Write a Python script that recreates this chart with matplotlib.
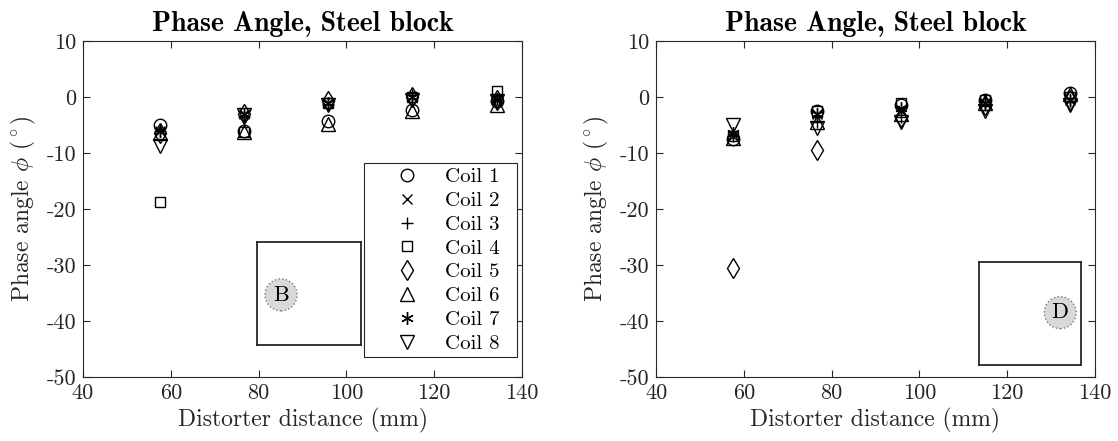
import matplotlib
matplotlib.use("Agg")
import matplotlib.pyplot as plt
from matplotlib.patches import Circle, Rectangle

plt.rcParams['font.family'] = ['cmr10', 'DejaVu Serif']
plt.rcParams['mathtext.fontset'] = 'cm'
plt.rcParams['axes.unicode_minus'] = False
plt.rcParams['axes.formatter.use_mathtext'] = False

distance = [57.5, 76.7, 95.8, 115.0, 134.3]
coils = ["Coil 1", "Coil 2", "Coil 3", "Coil 4", "Coil 5", "Coil 6", "Coil 7", "Coil 8"]

# Left panel (block position B)
left_vals = [
    [-5.0, -6.0, -4.3, -2.3, -0.8],    # Coil 1
    [-6.0, -3.0, -1.0, 0.0, -0.3],     # Coil 2
    [-6.0, -3.5, -1.2, 0.3, -0.3],     # Coil 3
    [-18.8, -6.2, -1.0, 0.0, 1.0],     # Coil 4
    [-6.5, -3.0, -0.8, 0.0, -0.5],     # Coil 5
    [-6.5, -6.3, -4.8, -2.5, -1.5],    # Coil 6
    [-6.0, -3.0, -1.0, 0.0, -0.3],     # Coil 7
    [-8.7, -3.2, -1.5, -0.5, -0.8],    # Coil 8
]
# Right panel (block position D)
right_vals = [
    [-7.5, -2.5, -1.5, -0.5, 0.8],     # Coil 1
    [-7.0, -3.0, -2.5, -1.0, -0.5],    # Coil 2
    [-7.0, -4.5, -3.5, -1.5, -0.8],    # Coil 3
    [-7.0, -2.5, -1.0, -0.5, 0.0],     # Coil 4
    [-30.5, -9.5, -3.5, -1.5, -0.5],   # Coil 5
    [-7.3, -4.5, -3.0, -1.0, 0.5],     # Coil 6
    [-6.5, -3.0, -2.0, -1.0, -0.5],    # Coil 7
    [-5.0, -5.5, -4.5, -2.5, -1.5],    # Coil 8
]
inset_labels = ["B", "D"]

markers = ['o', 'x', '+', 's', 'd', '^', (6, 2, 0), 'v']
msizes = [9, 7, 9, 7, 10, 10, 9, 10]

fig = plt.figure(figsize=(11.18, 4.41), dpi=100)
W, H = 1118, 441
axL = fig.add_axes([83 / W, 1 - 377 / H, 439 / W, 336 / H])
axR = fig.add_axes([656 / W, 1 - 377 / H, 439 / W, 336 / H])

spine_col = '#262626'

for ax, vals in [(axL, left_vals), (axR, right_vals)]:
    for i, name in enumerate(coils):
        ax.plot(distance, vals[i], linestyle='none', marker=markers[i],
                markersize=msizes[i], markerfacecolor='none',
                markeredgecolor='black', markeredgewidth=1.0, color='black',
                label=name)
    ax.set_xlim(40, 140)
    ax.set_ylim(-50, 10)
    ax.set_xticks([40, 60, 80, 100, 120, 140])
    ax.set_yticks([-50, -40, -30, -20, -10, 0, 10])
    ax.tick_params(direction='in', top=True, right=True, length=5,
                   width=0.8, colors=spine_col, labelcolor='#262626',
                   labelsize=16, pad=5)
    for s in ax.spines.values():
        s.set_color(spine_col)
        s.set_linewidth(0.8)
    ax.set_xlabel('Distorter distance (mm)', fontsize=17, color='#262626',
                  labelpad=3)
    ax.set_ylabel(r'Phase angle $\phi$ ($^\circ$)', fontsize=17,
                  color='#262626', labelpad=6)
    ax.set_title('Phase Angle, Steel block', fontsize=20,
                 fontfamily='cmb10', pad=7)

# legend (frame drawn separately to match the reference padding)
leg_box = (0.640, 0.0595, 0.3486, 0.5774)
leg = axL.legend(loc='lower left', fontsize=15, frameon=False,
                 handletextpad=0.1, labelspacing=0.25,
                 borderpad=0.2, handlelength=3.5, borderaxespad=0,
                 bbox_to_anchor=(leg_box[0] + 0.005, leg_box[1]))
axL.add_patch(Rectangle((leg_box[0], leg_box[1]), leg_box[2], leg_box[3],
                        transform=axL.transAxes, facecolor='white',
                        edgecolor=spine_col, linewidth=0.8, zorder=4.9))
leg.set_zorder(5)

def draw_inset(ax, bounds, center, label):
    ia = ax.inset_axes(bounds)
    ia.set_xlim(0, 1)
    ia.set_ylim(0, 1)
    ia.set_xticks([])
    ia.set_yticks([])
    for s in ia.spines.values():
        s.set_color('#262626')
        s.set_linewidth(1.3)
    c = Circle(center, 0.155, facecolor='#d9d9d9', edgecolor='#777777',
               linestyle=':', linewidth=1.0)
    ia.add_patch(c)
    ia.text(center[0], center[1], label, ha='center', va='center', fontsize=16)

draw_inset(axL, [0.397, 0.094, 0.2355, 0.307], (0.23, 0.49), inset_labels[0])
draw_inset(axR, [0.735, 0.035, 0.2337, 0.307], (0.795, 0.51), inset_labels[1])

fig.savefig('out.png', dpi=100)
